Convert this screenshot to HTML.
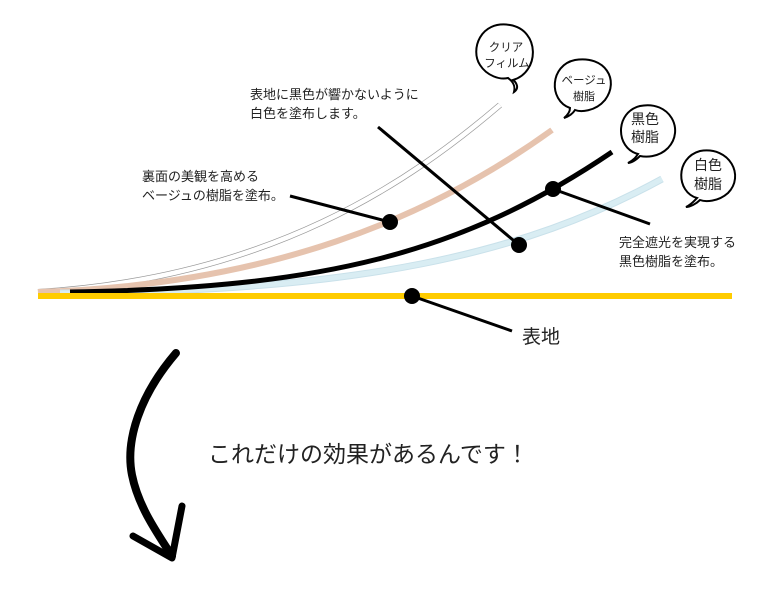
<!DOCTYPE html>
<html><head><meta charset="utf-8"><style>
body{margin:0;background:#fff;}
svg{display:block;font-family:"Liberation Sans","Noto Sans CJK JP",sans-serif;}
</style></head><body>
<svg width="775" height="589" viewBox="0 0 775 589">
<!-- clear film -->
<path d="M38,292 C270,278 410,182 500,105" fill="none" stroke="#999" stroke-width="6"/>
<path d="M38,292 C270,278 410,182 500,105" fill="none" stroke="#fff" stroke-width="4.6"/>
<!-- beige -->
<path d="M38,292 C270,285 430,218 552,130" fill="none" stroke="#e6c3ae" stroke-width="6"/>
<!-- blue -->
<path d="M60,293 C360,292 525,254 662,179" fill="none" stroke="#c9e1ea" stroke-width="7"/>
<path d="M60,293 C360,292 525,254 662,179" fill="none" stroke="#d9edf3" stroke-width="5"/>
<!-- black -->
<path d="M70,292 C320,288 460,255 612,152" fill="none" stroke="#000" stroke-width="5"/>
<!-- yellow -->
<rect x="38" y="293" width="694" height="6" fill="#ffcc00"/>
<!-- leader lines -->
<g stroke="#000" stroke-width="3" fill="none">
<line x1="290" y1="196" x2="390" y2="222"/>
<line x1="378" y1="127" x2="519" y2="245"/>
<line x1="553" y1="189" x2="650" y2="224"/>
<line x1="412" y1="296" x2="512" y2="331"/>
</g>
<g fill="#000">
<circle cx="390" cy="222" r="8"/>
<circle cx="519" cy="245" r="8"/>
<circle cx="553" cy="189" r="8"/>
<circle cx="412" cy="296" r="8"/>
</g>
<!-- bubbles -->
<g fill="#fff" stroke="#000" stroke-width="2">
<path d="M513,80 C540,72 540,30 510,25 C480,20 470,50 480,65 C487,76 500,80 508,78 C515,83 515,88 514,92 C520,88 516,82 513,80 Z"/>
<path d="M570,108 C548,100 550,65 575,60 C605,55 620,80 605,100 C595,112 580,112 575,110 C572,115 567,117 564,118 C569,114 570,111 570,108 Z"/>
<path d="M638,154 C615,148 615,112 640,106 C670,100 685,130 668,148 C658,158 645,157 640,156 C636,160 632,163 628,163 C634,160 636,157 638,154 Z"/>
<path d="M697,198 C676,192 675,158 700,151 C730,146 745,176 728,193 C718,202 705,202 700,200 C696,204 690,207 686,207 C692,204 694,201 697,198 Z"/>
</g>
<g font-size="11.5" fill="#222" text-anchor="middle">
<text x="506" y="51">クリア</text>
<text x="507" y="67">フィルム</text>
<text x="584" y="84">ベージュ</text>
<text x="584" y="100" font-size="11">樹脂</text>
</g>
<g font-size="14" fill="#222" text-anchor="middle">
<text x="645" y="124">黒色</text>
<text x="645" y="142">樹脂</text>
<text x="708" y="170">白色</text>
<text x="708" y="189">樹脂</text>
</g>
<g font-size="13" fill="#222">
<text x="250" y="99">表地に黒色が響かないように</text>
<text x="250" y="118">白色を塗布します。</text>
<text x="142" y="181">裏面の美観を高める</text>
<text x="142" y="200">ベージュの樹脂を塗布。</text>
<text x="619" y="247">完全遮光を実現する</text>
<text x="619" y="266">黒色樹脂を塗布。</text>
</g>
<text x="522" y="343" font-size="19" fill="#222">表地</text>
<text x="208" y="462" font-size="23" fill="#222">これだけの効果があるんです！</text>
<!-- arrow -->
<path d="M176,353 C140,395 125,440 132,475 C138,505 155,530 172,556" fill="none" stroke="#000" stroke-width="8" stroke-linecap="round"/>
<path d="M133,536 L172,558 L182,506" fill="none" stroke="#000" stroke-width="7" stroke-linecap="round" stroke-linejoin="round"/>
</svg>
</body></html>
